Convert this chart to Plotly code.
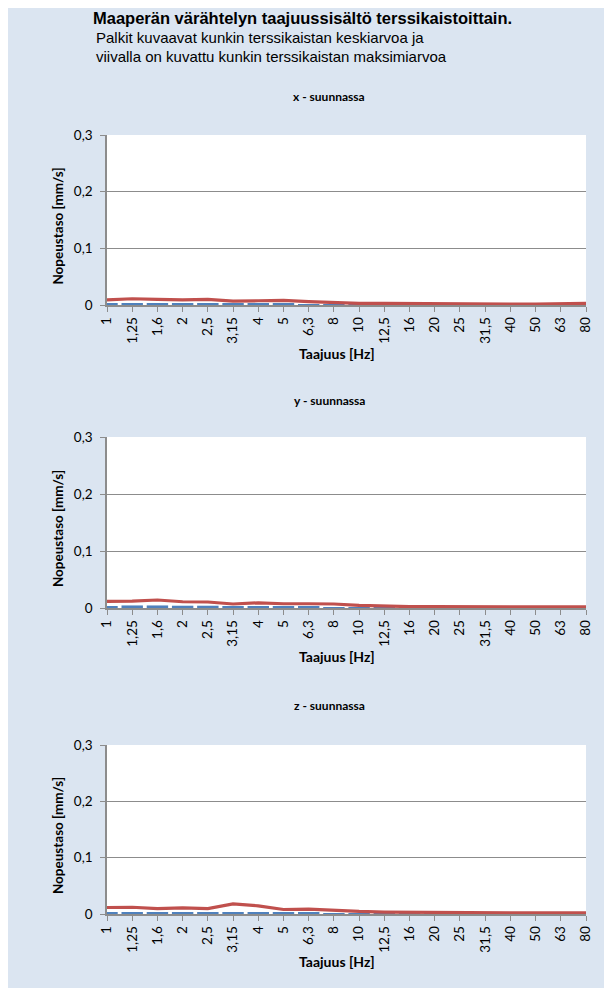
import plotly.graph_objects as go

freq_labels = ["1", "1,25", "1,6", "2", "2,5", "3,15", "4", "5", "6,3", "8",
               "10", "12,5", "16", "20", "25", "31,5", "40", "50", "63", "80"]

x_mean = [0.003, 0.003, 0.003, 0.0025, 0.0025, 0.002, 0.002, 0.002, 0.0015, 0.001,
          0.001, 0.001, 0.0008, 0.0008, 0.0007, 0.0007, 0.0006, 0.0006, 0.0006, 0.0008]
x_max = [0.009, 0.011, 0.010, 0.009, 0.010, 0.007, 0.0075, 0.008, 0.006, 0.0045,
         0.003, 0.003, 0.0025, 0.002, 0.002, 0.002, 0.0015, 0.0015, 0.002, 0.003]

y_mean = [0.003, 0.0045, 0.0045, 0.004, 0.004, 0.003, 0.0035, 0.003, 0.0025, 0.0015,
          0.001, 0.0008, 0.0007, 0.0007, 0.0006, 0.0006, 0.0006, 0.0006, 0.0006, 0.0006]
y_max = [0.0115, 0.012, 0.014, 0.011, 0.0105, 0.007, 0.009, 0.0075, 0.0075, 0.007,
         0.0045, 0.003, 0.0025, 0.0025, 0.002, 0.002, 0.002, 0.002, 0.002, 0.002]

z_mean = [0.003, 0.003, 0.003, 0.0035, 0.003, 0.003, 0.003, 0.0025, 0.002, 0.0015,
          0.001, 0.001, 0.0008, 0.0008, 0.0007, 0.0007, 0.0006, 0.0006, 0.0006, 0.0006]
z_max = [0.0115, 0.012, 0.0095, 0.011, 0.0095, 0.018, 0.0145, 0.008, 0.0085, 0.006,
         0.0045, 0.0035, 0.003, 0.0025, 0.0025, 0.002, 0.002, 0.002, 0.002, 0.002]

y_tick_vals = [0, 0.1, 0.2, 0.3]
y_tick_text = ["0", "0,1", "0,2", "0,3"]

main_title = "Maaperän värähtelyn taajuussisältö terssikaistoittain."
sub_lines = ["Palkit kuvaavat kunkin terssikaistan keskiarvoa ja",
             "viivalla on kuvattu kunkin terssikaistan maksimiarvoa"]
panel_titles = ["x - suunnassa", "y - suunnassa", "z - suunnassa"]
x_title = "Taajuus [Hz]"
y_title = "Nopeustaso [mm/s]"

BG = "#dbe5f1"
GRID = "#8c8c8c"
BLUE = "#4f81bd"
RED = "#c0504d"
FONT = "Lato"

W, H = 597, 980
ML, MR, MT, MB = 99, 13, 127, 74
plot_h = H - MT - MB

def py(fig_y):
    return (H - MB - fig_y) / plot_h

def px(fig_x):
    return (fig_x - ML) / (W - ML - MR)

# plot areas (figure pixel coords, top/bottom)
areas = [(127, 297), (429, 600), (737, 906)]

fig = go.Figure()
pos = list(range(len(freq_labels)))
series = [(x_mean, x_max), (y_mean, y_max), (z_mean, z_max)]

for i, (mean, mx) in enumerate(series):
    xa = "x" if i == 0 else f"x{i+1}"
    ya = "y" if i == 0 else f"y{i+1}"
    fig.add_trace(go.Bar(x=pos, y=mean, marker=dict(color=BLUE, line=dict(width=0)),
                         width=0.85, xaxis=xa, yaxis=ya, showlegend=False))
    fig.add_trace(go.Scatter(x=pos, y=mx, mode="lines", line=dict(color=RED, width=3.2),
                             xaxis=xa, yaxis=ya, showlegend=False))

layout = dict(
    width=W, height=H,
    margin=dict(l=ML, r=MR, t=MT, b=MB, pad=0),
    paper_bgcolor=BG, plot_bgcolor="white",
    font=dict(family=FONT, size=13, color="black"),
    barmode="overlay",
)

for i, (top, bot) in enumerate(areas):
    sfx = "" if i == 0 else str(i + 1)
    layout["xaxis" + sfx] = dict(
        domain=[0, 1], anchor="y" + sfx, range=[0, len(freq_labels) - 1],
        tickmode="array", tickvals=pos, ticktext=freq_labels, tickangle=-90,
        ticks="outside", ticklen=5, tickcolor=GRID, showline=True, linecolor=GRID,
        linewidth=1.5, showgrid=False, zeroline=False,
        tickfont=dict(family=FONT, size=13.5, color="black"),
    )
    layout["yaxis" + sfx] = dict(
        domain=[py(bot), py(top)], anchor="x" + sfx, range=[0, 0.3],
        tickmode="array", tickvals=y_tick_vals, ticktext=y_tick_text,
        ticks="outside", ticklen=5, tickcolor=GRID, showline=True, linecolor=GRID,
        linewidth=1.5, showgrid=True, gridcolor=GRID, gridwidth=1, zeroline=False,
        ticklabelstandoff=5,
        tickfont=dict(family=FONT, size=13.5, color="black"),
    )

fig.update_layout(**layout)

annotations = [
    dict(text="<b>" + main_title + "</b>", x=px(297), y=py(10), xref="paper", yref="paper",
         showarrow=False, xanchor="center", yanchor="middle",
         font=dict(family="Liberation Sans", size=16.5, color="black")),
    dict(text=sub_lines[0], x=px(86), y=py(30), xref="paper", yref="paper",
         showarrow=False, xanchor="left", yanchor="middle",
         font=dict(family="Liberation Sans", size=15, color="black")),
    dict(text=sub_lines[1], x=px(86), y=py(49), xref="paper", yref="paper",
         showarrow=False, xanchor="left", yanchor="middle",
         font=dict(family="Liberation Sans", size=15, color="black")),
]
title_ys = [89, 392, 697]
for (top, bot), t, ty in zip(areas, panel_titles, title_ys):
    annotations.append(dict(text="<b>" + t + "</b>", x=px(324), y=py(ty), xref="paper", yref="paper",
                            showarrow=False, xanchor="center", yanchor="middle",
                            font=dict(family=FONT, size=12, color="black")))
    annotations.append(dict(text="<b>" + y_title + "</b>", x=px(49), y=py((top + bot) / 2 + 6),
                            xref="paper", yref="paper", textangle=-90,
                            showarrow=False, xanchor="center", yanchor="middle",
                            font=dict(family=FONT, size=13.5, color="black")))
    annotations.append(dict(text="<b>" + x_title + "</b>", x=px(332), y=py(bot + 48),
                            xref="paper", yref="paper",
                            showarrow=False, xanchor="center", yanchor="middle",
                            font=dict(family=FONT, size=14, color="black")))
fig.update_layout(annotations=annotations)

fig.write_html("out.html")
